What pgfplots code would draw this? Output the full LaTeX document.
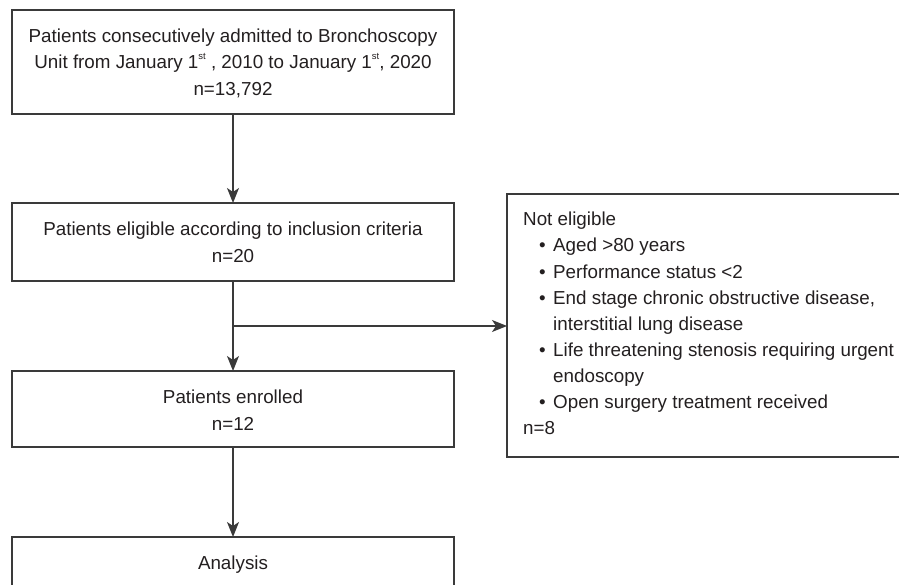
\documentclass[border=0pt]{standalone}
\usepackage{fontspec}
\setmainfont{Liberation Sans}
\usepackage{pgfplots}
\pgfplotsset{compat=1.18}
\usetikzlibrary{arrows.meta}
\definecolor{ln}{HTML}{3A3A3A}
\definecolor{tx}{HTML}{231F20}
\newcommand{\fsz}{\fontsize{18.8}{26}\selectfont}
\newcommand{\sst}{\raisebox{0.5em}{\fontsize{9.5}{9.5}\selectfont st}}
\newcommand{\gt}{\char"3E\relax}
\newcommand{\lt}{\char"3C\relax}
\newcommand{\bul}{\char"2022\relax}
\tikzset{
  txt/.style={anchor=base, inner sep=0pt, text=tx, font=\fsz},
  txl/.style={anchor=base west, inner sep=0pt, text=tx, font=\fsz},
  bx/.style={draw=ln, line width=1.5pt, mark=none, line join=miter, fill=none},
  ar/.style={bx, -{Stealth[length=15pt,width=12pt,inset=4pt]}}}
\begin{document}
\begin{tikzpicture}
\begin{axis}[name=ax, scale only axis, width=899pt, height=585pt,
  xmin=0, xmax=899, ymin=0, ymax=585, y dir=reverse, hide axis, clip=true]
% boxes
\addplot[bx] coordinates {(12,10) (454,10) (454,114) (12,114)} -- cycle;
\addplot[bx] coordinates {(12,203) (454,203) (454,281) (12,281)} -- cycle;
\addplot[bx] coordinates {(12,371) (454,371) (454,447) (12,447)} -- cycle;
\addplot[bx] coordinates {(12,537) (454,537) (454,620) (12,620)} -- cycle;
\addplot[bx] coordinates {(507,194) (940,194) (940,457) (507,457)} -- cycle;
% connectors
\addplot[ar] coordinates {(233,114) (233,203)};
\addplot[ar] coordinates {(233,281) (233,371)};
\addplot[ar] coordinates {(233,326) (507,326)};
\addplot[ar] coordinates {(233,447) (233,537)};
% texts
\node[txt] at (axis cs:233,43) {Patients consecutively admitted to Bronchoscopy};
\node[txt] at (axis cs:233,69) {Unit from January 1\sst\ , 2010 to January 1\sst, 2020};
\node[txt] at (axis cs:233,96) {n=13,792};
\node[txt] at (axis cs:233,236) {Patients eligible according to inclusion criteria};
\node[txt] at (axis cs:233,263) {n=20};
\node[txt] at (axis cs:233,403) {Patients enrolled};
\node[txt] at (axis cs:233,430) {n=12};
\node[txt] at (axis cs:233,569) {Analysis};
\node[txl] at (axis cs:523,226) {Not eligible};
\node[txl] at (axis cs:539,252) {\bul};
\node[txl] at (axis cs:553,252) {Aged \gt 80 years};
\node[txl] at (axis cs:539,278) {\bul};
\node[txl] at (axis cs:553,278) {Performance status \lt 2};
\node[txl] at (axis cs:539,304) {\bul};
\node[txl] at (axis cs:553,304) {End stage chronic obstructive disease,};
\node[txl] at (axis cs:553,330) {interstitial lung disease};
\node[txl] at (axis cs:539,356) {\bul};
\node[txl] at (axis cs:553,356) {Life threatening stenosis requiring urgent};
\node[txl] at (axis cs:553,382) {endoscopy};
\node[txl] at (axis cs:539,408) {\bul};
\node[txl] at (axis cs:553,408) {Open surgery treatment received};
\node[txl] at (axis cs:523,434) {n=8};
\end{axis}
\pgfresetboundingbox
\useasboundingbox (ax.south west) rectangle (ax.north east);
\end{tikzpicture}
\end{document}
